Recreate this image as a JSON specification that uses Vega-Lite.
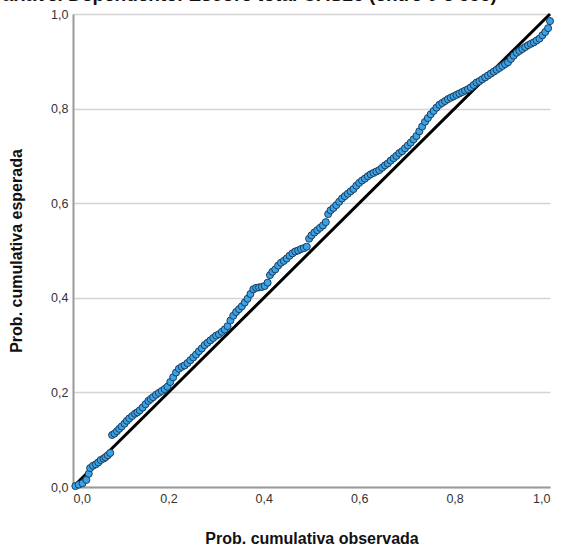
{
  "$schema": "https://vega.github.io/schema/vega-lite/v6.json",
  "autosize": "none",
  "width": 477,
  "height": 473,
  "padding": {"left": 73, "top": 14, "right": 11, "bottom": 66},
  "background": "white",
  "title": {
    "text": "Variável Dependente: Escore total CAS25 (entre 0 e 555)",
    "anchor": "start",
    "frame": "group",
    "dx": -82,
    "dy": 16,
    "offset": 0,
    "baseline": "bottom",
    "font": "Liberation Sans",
    "fontSize": 19,
    "fontWeight": "bold",
    "color": "#111111"
  },
  "config": {
    "view": {"stroke": null},
    "axis": {
      "labelFont": "Liberation Sans",
      "titleFont": "Liberation Sans",
      "labelFontSize": 12.5,
      "labelColor": "#333333",
      "titleFontSize": 16,
      "titleFontWeight": "bold",
      "titleColor": "#111111",
      "domainColor": "#9a9a9a",
      "domainWidth": 2,
      "ticks": false,
      "gridColor": "#d4d4d4",
      "gridWidth": 1.5
    }
  },
  "datasets": {
    "pts": [
      {"obs": 0.005, "esp": 0.002}, {"obs": 0.012, "esp": 0.005}, {"obs": 0.02, "esp": 0.008},
      {"obs": 0.028, "esp": 0.015}, {"obs": 0.033, "esp": 0.028}, {"obs": 0.036, "esp": 0.04},
      {"obs": 0.042, "esp": 0.045}, {"obs": 0.048, "esp": 0.048}, {"obs": 0.053, "esp": 0.052},
      {"obs": 0.058, "esp": 0.057}, {"obs": 0.064, "esp": 0.06}, {"obs": 0.068, "esp": 0.063},
      {"obs": 0.073, "esp": 0.067}, {"obs": 0.078, "esp": 0.072},
      {"obs": 0.082, "esp": 0.11}, {"obs": 0.087, "esp": 0.113}, {"obs": 0.092, "esp": 0.118},
      {"obs": 0.097, "esp": 0.123}, {"obs": 0.102, "esp": 0.128}, {"obs": 0.108, "esp": 0.134},
      {"obs": 0.113, "esp": 0.14}, {"obs": 0.118, "esp": 0.145}, {"obs": 0.124, "esp": 0.15},
      {"obs": 0.13, "esp": 0.155}, {"obs": 0.135, "esp": 0.158}, {"obs": 0.14, "esp": 0.162},
      {"obs": 0.146, "esp": 0.168}, {"obs": 0.152, "esp": 0.175}, {"obs": 0.158, "esp": 0.182},
      {"obs": 0.163, "esp": 0.186}, {"obs": 0.168, "esp": 0.19}, {"obs": 0.174, "esp": 0.195},
      {"obs": 0.18, "esp": 0.199}, {"obs": 0.186, "esp": 0.203}, {"obs": 0.192, "esp": 0.207},
      {"obs": 0.198, "esp": 0.212}, {"obs": 0.204, "esp": 0.222}, {"obs": 0.21, "esp": 0.232},
      {"obs": 0.216, "esp": 0.242}, {"obs": 0.222, "esp": 0.25}, {"obs": 0.228, "esp": 0.254},
      {"obs": 0.234, "esp": 0.257}, {"obs": 0.24, "esp": 0.262}, {"obs": 0.246, "esp": 0.268},
      {"obs": 0.252, "esp": 0.274}, {"obs": 0.258, "esp": 0.28}, {"obs": 0.264, "esp": 0.287},
      {"obs": 0.27, "esp": 0.293}, {"obs": 0.276, "esp": 0.3}, {"obs": 0.282, "esp": 0.305},
      {"obs": 0.288, "esp": 0.31}, {"obs": 0.294, "esp": 0.315}, {"obs": 0.3, "esp": 0.32},
      {"obs": 0.306, "esp": 0.323}, {"obs": 0.312, "esp": 0.328}, {"obs": 0.318, "esp": 0.333},
      {"obs": 0.324, "esp": 0.34}, {"obs": 0.33, "esp": 0.352}, {"obs": 0.336, "esp": 0.362},
      {"obs": 0.342, "esp": 0.37}, {"obs": 0.348, "esp": 0.376}, {"obs": 0.354, "esp": 0.382},
      {"obs": 0.36, "esp": 0.39}, {"obs": 0.366, "esp": 0.398}, {"obs": 0.372, "esp": 0.408},
      {"obs": 0.378, "esp": 0.418}, {"obs": 0.384, "esp": 0.421}, {"obs": 0.39, "esp": 0.422},
      {"obs": 0.396, "esp": 0.423}, {"obs": 0.402, "esp": 0.425}, {"obs": 0.408, "esp": 0.432},
      {"obs": 0.413, "esp": 0.448}, {"obs": 0.418, "esp": 0.455}, {"obs": 0.424, "esp": 0.46},
      {"obs": 0.43, "esp": 0.468}, {"obs": 0.436, "esp": 0.474}, {"obs": 0.442, "esp": 0.478},
      {"obs": 0.448, "esp": 0.483}, {"obs": 0.454, "esp": 0.489}, {"obs": 0.46, "esp": 0.494},
      {"obs": 0.466, "esp": 0.498}, {"obs": 0.472, "esp": 0.5}, {"obs": 0.478, "esp": 0.503},
      {"obs": 0.484, "esp": 0.505}, {"obs": 0.49, "esp": 0.508}, {"obs": 0.495, "esp": 0.525},
      {"obs": 0.5, "esp": 0.532}, {"obs": 0.506, "esp": 0.538}, {"obs": 0.512, "esp": 0.543},
      {"obs": 0.518, "esp": 0.548}, {"obs": 0.524, "esp": 0.553}, {"obs": 0.53, "esp": 0.56},
      {"obs": 0.535, "esp": 0.577}, {"obs": 0.54, "esp": 0.585}, {"obs": 0.546, "esp": 0.59},
      {"obs": 0.552, "esp": 0.596}, {"obs": 0.558, "esp": 0.603}, {"obs": 0.564, "esp": 0.61},
      {"obs": 0.57, "esp": 0.615}, {"obs": 0.576, "esp": 0.62}, {"obs": 0.582, "esp": 0.625},
      {"obs": 0.588, "esp": 0.63}, {"obs": 0.594, "esp": 0.637}, {"obs": 0.6, "esp": 0.643},
      {"obs": 0.606, "esp": 0.648}, {"obs": 0.612, "esp": 0.652}, {"obs": 0.618, "esp": 0.657},
      {"obs": 0.624, "esp": 0.661}, {"obs": 0.63, "esp": 0.664}, {"obs": 0.636, "esp": 0.667},
      {"obs": 0.642, "esp": 0.67}, {"obs": 0.648, "esp": 0.675}, {"obs": 0.654, "esp": 0.68},
      {"obs": 0.66, "esp": 0.684}, {"obs": 0.666, "esp": 0.69}, {"obs": 0.672, "esp": 0.695},
      {"obs": 0.678, "esp": 0.7}, {"obs": 0.684, "esp": 0.706}, {"obs": 0.69, "esp": 0.71},
      {"obs": 0.696, "esp": 0.716}, {"obs": 0.702, "esp": 0.722}, {"obs": 0.708, "esp": 0.728},
      {"obs": 0.714, "esp": 0.735}, {"obs": 0.72, "esp": 0.742}, {"obs": 0.726, "esp": 0.752},
      {"obs": 0.732, "esp": 0.762}, {"obs": 0.738, "esp": 0.772}, {"obs": 0.744, "esp": 0.78},
      {"obs": 0.75, "esp": 0.788}, {"obs": 0.756, "esp": 0.795}, {"obs": 0.762, "esp": 0.802},
      {"obs": 0.768, "esp": 0.808}, {"obs": 0.774, "esp": 0.812}, {"obs": 0.78, "esp": 0.816},
      {"obs": 0.786, "esp": 0.82}, {"obs": 0.792, "esp": 0.823}, {"obs": 0.798, "esp": 0.826},
      {"obs": 0.804, "esp": 0.829}, {"obs": 0.81, "esp": 0.832}, {"obs": 0.816, "esp": 0.835},
      {"obs": 0.822, "esp": 0.838}, {"obs": 0.828, "esp": 0.841}, {"obs": 0.834, "esp": 0.845},
      {"obs": 0.84, "esp": 0.85}, {"obs": 0.846, "esp": 0.855}, {"obs": 0.852, "esp": 0.858},
      {"obs": 0.858, "esp": 0.862}, {"obs": 0.864, "esp": 0.866}, {"obs": 0.87, "esp": 0.87},
      {"obs": 0.876, "esp": 0.874}, {"obs": 0.882, "esp": 0.878}, {"obs": 0.888, "esp": 0.882},
      {"obs": 0.894, "esp": 0.886}, {"obs": 0.9, "esp": 0.89}, {"obs": 0.906, "esp": 0.894},
      {"obs": 0.912, "esp": 0.898}, {"obs": 0.918, "esp": 0.905}, {"obs": 0.924, "esp": 0.912},
      {"obs": 0.93, "esp": 0.918}, {"obs": 0.936, "esp": 0.922}, {"obs": 0.942, "esp": 0.926},
      {"obs": 0.948, "esp": 0.93}, {"obs": 0.954, "esp": 0.934}, {"obs": 0.96, "esp": 0.937},
      {"obs": 0.966, "esp": 0.94}, {"obs": 0.972, "esp": 0.944}, {"obs": 0.978, "esp": 0.948},
      {"obs": 0.984, "esp": 0.955}, {"obs": 0.99, "esp": 0.962}, {"obs": 0.996, "esp": 0.97},
      {"obs": 1.0, "esp": 0.985}
    ],
    "diag": [{"obs": 0, "esp": 0}, {"obs": 1, "esp": 1}]
  },
  "layer": [
    {
      "data": {"name": "diag"},
      "mark": {"type": "line", "color": "#000000", "strokeWidth": 3},
      "encoding": {
        "x": {"field": "obs", "type": "quantitative", "scale": {"domain": [0, 1], "nice": false},
          "title": "Prob. cumulativa observada",
          "axis": {"values": [0, 0.2, 0.4, 0.6, 0.8, 1.0], "format": ".1f", "grid": false, "labelExpr": "replace(datum.label, '.', ',')", "labelPadding": 5, "titlePadding": 26}},
        "y": {"field": "esp", "type": "quantitative", "scale": {"domain": [0, 1], "nice": false},
          "title": "Prob. cumulativa esperada",
          "axis": {"values": [0, 0.2, 0.4, 0.6, 0.8, 1.0], "format": ".1f", "grid": true, "labelExpr": "replace(datum.label, '.', ',')", "labelPadding": 5, "titlePadding": 26}}
      }
    },
    {
      "data": {"name": "pts"},
      "mark": {"type": "point", "shape": "circle", "filled": true, "fill": "#3aa3e8", "stroke": "#1d3d5c", "strokeWidth": 1, "opacity": 1, "size": 50},
      "encoding": {
        "x": {"field": "obs", "type": "quantitative"},
        "y": {"field": "esp", "type": "quantitative"}
      }
    }
  ]
}
